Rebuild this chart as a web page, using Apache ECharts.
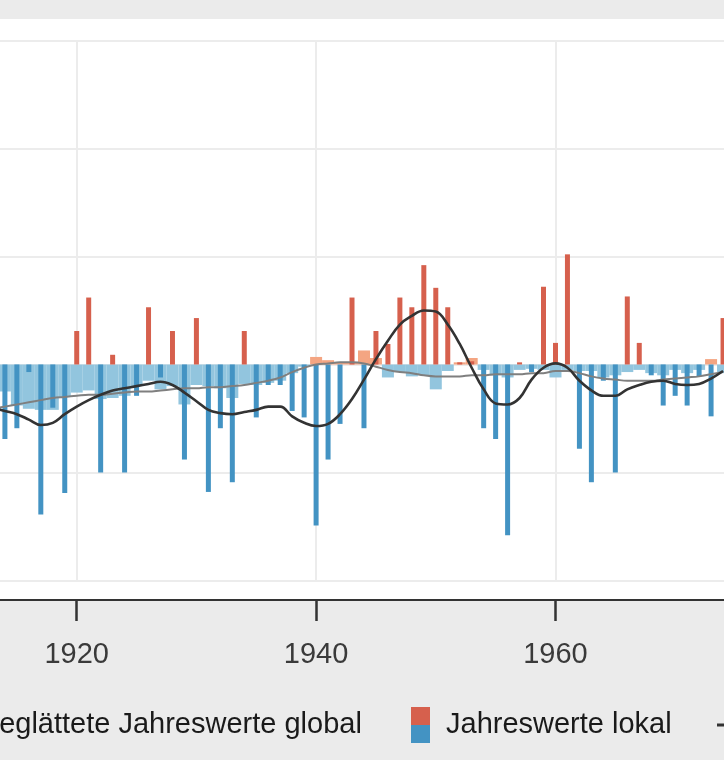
<!DOCTYPE html>
<html>
<head>
<meta charset="utf-8">
<script src="https://cdn.jsdelivr.net/npm/echarts@6/dist/echarts.min.js"></script>
<style>
html,body{margin:0;padding:0;background:#ebebeb;}
#c{width:724px;height:760px;}
</style>
</head>
<body>
<div id="c"></div>
<script>
// ---- data ----
const years = [1913,1914,1915,1916,1917,1918,1919,1920,1921,1922,1923,1924,1925,1926,1927,1928,1929,1930,
  1931,1932,1933,1934,1935,1936,1937,1938,1939,1940,1941,1942,1943,1944,1945,1946,1947,1948,1949,1950,
  1951,1952,1953,1954,1955,1956,1957,1958,1959,1960,1961,1962,1963,1964,1965,1966,1967,1968,1969,1970,
  1971,1972,1973,1974];

// Jahreswerte lokal
const localValues = [-0.30,-0.69,-0.59,-0.07,-1.39,-0.40,-1.19,0.31,0.62,-1.00,0.09,-1.00,-0.29,0.53,-0.12,0.31,-0.88,0.43,
  -1.18,-0.59,-1.09,0.31,-0.49,-0.19,-0.19,-0.43,-0.49,-1.49,-0.88,-0.55,0.62,-0.59,0.31,0.19,0.62,0.53,0.92,0.71,
  0.53,0.02,0.03,-0.59,-0.69,-1.58,0.02,-0.07,0.72,0.20,1.02,-0.78,-1.09,-0.15,-1.00,0.63,0.20,-0.10,-0.38,-0.29,
  -0.38,-0.11,-0.48,0.43];

// Jahreswerte global
const globalValues = [-0.30,-0.25,-0.38,-0.41,-0.42,-0.42,-0.30,-0.26,-0.24,-0.32,-0.31,-0.29,-0.20,-0.15,-0.23,-0.20,-0.37,-0.19,
  -0.20,-0.22,-0.31,-0.18,-0.19,-0.17,-0.15,-0.08,-0.02,0.07,0.04,0.02,0.02,0.13,0.06,-0.12,-0.07,-0.11,-0.10,-0.23,
  -0.06,0.02,0.06,-0.05,-0.10,-0.12,-0.05,-0.04,-0.05,-0.12,-0.05,-0.06,-0.06,-0.12,-0.10,-0.07,-0.05,-0.08,-0.10,-0.05,
  -0.08,-0.05,0.05,-0.08];

// geglättete Jahreswerte lokal
const localSmooth = [-0.40,-0.43,-0.46,-0.51,-0.56,-0.54,-0.46,-0.39,-0.33,-0.28,-0.24,-0.22,-0.20,-0.18,-0.16,-0.19,-0.26,-0.34,
  -0.42,-0.45,-0.46,-0.44,-0.42,-0.39,-0.39,-0.48,-0.54,-0.57,-0.55,-0.46,-0.32,-0.14,0.05,0.22,0.37,0.45,0.50,0.49,
  0.37,0.19,-0.03,-0.23,-0.36,-0.37,-0.31,-0.14,-0.03,0.01,-0.03,-0.15,-0.24,-0.29,-0.29,-0.23,-0.19,-0.16,-0.15,-0.18,
  -0.19,-0.18,-0.13,-0.06];

// geglättete Jahreswerte global
const globalSmooth = [-0.41,-0.39,-0.37,-0.35,-0.33,-0.31,-0.30,-0.29,-0.28,-0.28,-0.27,-0.26,-0.25,-0.25,-0.24,-0.23,-0.22,-0.22,
  -0.21,-0.21,-0.20,-0.19,-0.17,-0.15,-0.12,-0.07,-0.03,0.00,0.01,0.02,0.02,0.01,-0.02,-0.05,-0.07,-0.08,-0.10,-0.11,
  -0.11,-0.11,-0.10,-0.10,-0.09,-0.09,-0.09,-0.08,-0.08,-0.06,-0.06,-0.08,-0.11,-0.13,-0.14,-0.15,-0.15,-0.15,-0.14,-0.13,
  -0.12,-0.11,-0.09,-0.07];

// x tick labels and visible year window of the (cropped) panel
const xTicks = [1920, 1940, 1960];
const xWindow = [1913.59, 1974.08];

// ---- chart ----
const pairs = arr => years.map((y, i) => [y, arr[i]]);
const FONT = 'Liberation Sans, Arial, Helvetica, sans-serif';
function svgIcon(w, h, inner) {
  return 'image://data:image/svg+xml;charset=utf-8,' + encodeURIComponent(
    '<svg xmlns="http://www.w3.org/2000/svg" width="' + w + '" height="' + h + '" viewBox="0 0 ' + w + ' ' + h + '">' + inner + '</svg>');
}
const iconLokal = svgIcon(30, 36, '<rect x="0" y="0" width="19" height="18" fill="#d6604d"/><rect x="0" y="18" width="19" height="18" fill="#4393c3"/>');
const lineIcon = c => svgIcon(34, 36, '<rect x="0" y="16.5" width="34" height="3" fill="' + c + '"/>');

const legendText = {fontSize: 29, fontFamily: FONT, color: '#1a1a1a'};
const chart = echarts.init(document.getElementById('c'));
chart.setOption({
  animation: false,
  backgroundColor: '#ebebeb',
  graphic: [{type: 'rect', z: -10, silent: true, shape: {x: 0, y: 19, width: 724, height: 581}, style: {fill: '#ffffff'}}],
  grid: {left: 0, right: 0, top: 40.5, bottom: 179.5, show: false, containLabel: false, outerBoundsMode: 'none'},
  legend: [
    {data: [{name: 'geglättete Jahreswerte global', icon: lineIcon('#7f7f7f')}], left: -56, top: 707, width: 800, padding: 0, itemGap: 0,
     itemWidth: 34, itemHeight: 36, textStyle: legendText},
    {data: [{name: 'Jahreswerte lokal', icon: iconLokal}], left: 411, top: 707, width: 500, padding: 0, itemGap: 0,
     itemWidth: 30, itemHeight: 36, textStyle: legendText},
    {data: [{name: 'geglättete Jahreswerte lokal', icon: lineIcon('#333333')}], left: 717, top: 707, width: 500, padding: 0, itemGap: 0,
     itemWidth: 34, itemHeight: 36, textStyle: legendText}
  ],
  xAxis: [
    {type: 'value', min: xWindow[0], max: xWindow[1], position: 'bottom', offset: 19.5,
     axisLine: {onZero: false, lineStyle: {color: '#333333', width: 2}},
     axisTick: {customValues: xTicks, length: 21, lineStyle: {color: '#333333', width: 2.5}},
     axisLabel: {customValues: xTicks, margin: 40, fontSize: 29, fontFamily: FONT, color: '#3a3a3a', formatter: v => String(v)},
     splitLine: {show: true, lineStyle: {color: '#ececec', width: 2}}},
    {type: 'value', min: xWindow[0], max: xWindow[1], show: false, position: 'bottom',
     axisLine: {onZero: false}, splitLine: {show: false}}
  ],
  yAxis: {type: 'value', min: -2, max: 3, interval: 1,
    axisLine: {show: false}, axisTick: {show: false}, axisLabel: {show: false},
    splitLine: {show: true, lineStyle: {color: '#ececec', width: 2}}},
  series: [
    {name: 'Jahreswerte global', type: 'bar', xAxisIndex: 1, barWidth: 12, z: 2,
     data: pairs(globalValues),
     itemStyle: {color: p => (p.value[1] >= 0 ? '#f4a582' : '#92c5de')}},
    {name: 'Jahreswerte lokal', type: 'bar', xAxisIndex: 0, barWidth: 5, z: 3,
     data: pairs(localValues),
     itemStyle: {color: p => (p.value[1] >= 0 ? '#d6604d' : '#4393c3')}},
    {name: 'geglättete Jahreswerte global', type: 'line', xAxisIndex: 0, smooth: 0.4, symbol: 'none', z: 4,
     data: pairs(globalSmooth), lineStyle: {color: '#7f7f7f', width: 2}, itemStyle: {color: '#7f7f7f'}},
    {name: 'geglättete Jahreswerte lokal', type: 'line', xAxisIndex: 0, smooth: 0.4, symbol: 'none', z: 5,
     data: pairs(localSmooth), lineStyle: {color: '#333333', width: 2.6}, itemStyle: {color: '#333333'}}
  ]
});
</script>
</body>
</html>
